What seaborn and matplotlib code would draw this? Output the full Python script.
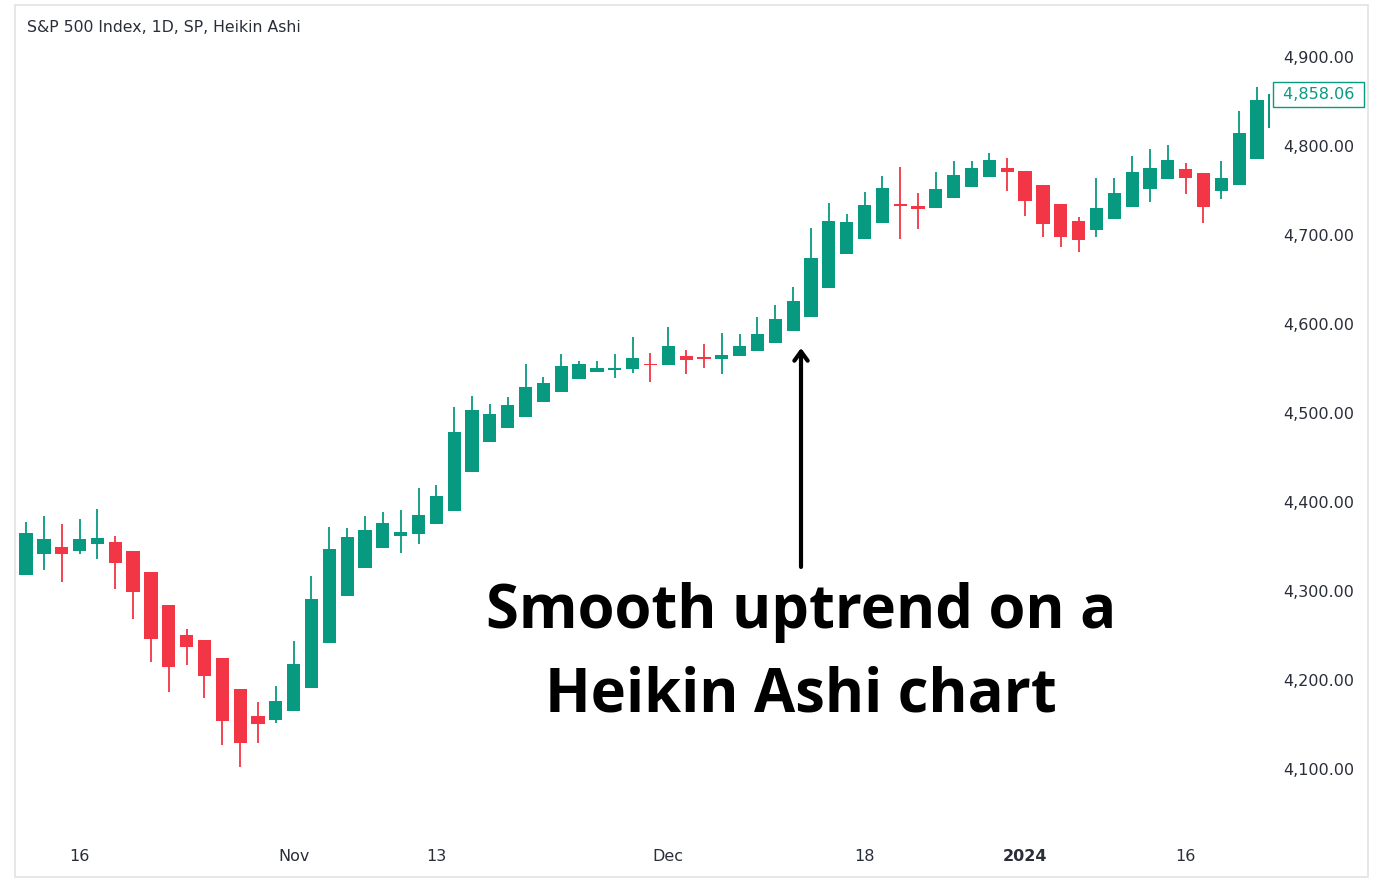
import numpy as np
import pandas as pd
import matplotlib
matplotlib.use("Agg")
import matplotlib.pyplot as plt
import seaborn as sns
from matplotlib.patches import Rectangle

# ---------------- data (Heikin Ashi OHLC, S&P 500 daily) ----------------
ha_open = [4318.0, 4341.2, 4349.8, 4344.9, 4352.5, 4355.4, 4344.6, 4321.7, 4283.9, 4250.2,
           4244.9, 4224.4, 4189.5, 4159.5, 4155.1, 4165.5, 4191.3, 4241.2, 4294.4, 4326.2,
           4348.0, 4361.5, 4363.7, 4374.9, 4389.9, 4434.0, 4467.7, 4482.8, 4495.2, 4512.7,
           4523.6, 4538.5, 4546.4, 4548.7, 4549.1, 4555.1, 4554.3, 4564.0, 4562.6, 4561.0,
           4563.7, 4569.3, 4578.7, 4592.1, 4608.2, 4640.8, 4678.3, 4695.8, 4713.5, 4734.5,
           4732.9, 4730.7, 4741.9, 4754.3, 4764.8, 4774.9, 4772.2, 4756.2, 4734.8, 4715.7,
           4705.6, 4717.6, 4731.1, 4751.7, 4762.6, 4773.8, 4769.3, 4749.8, 4756.5, 4785.4,
           4819.9]
ha_high = [4377.5, 4384.3, 4374.9, 4381.2, 4392.1, 4361.8, 4344.6, 4321.7, 4283.9, 4257.6,
           4244.9, 4224.4, 4189.5, 4174.9, 4193.6, 4244.2, 4317.2, 4371.6, 4370.8, 4384.3,
           4388.8, 4391.0, 4416.1, 4418.8, 4506.4, 4519.4, 4509.8, 4517.6, 4555.1, 4540.1,
           4566.0, 4558.4, 4558.8, 4566.0, 4585.1, 4567.8, 4597.0, 4570.8, 4577.2, 4589.6,
           4588.8, 4607.5, 4621.7, 4641.2, 4707.9, 4736.3, 4723.6, 4748.0, 4766.3, 4776.1,
           4747.2, 4771.1, 4783.5, 4783.5, 4791.8, 4786.2, 4772.2, 4756.2, 4734.8, 4719.7,
           4763.7, 4763.7, 4788.8, 4796.6, 4801.1, 4780.6, 4769.3, 4783.5, 4839.7, 4866.6,
           4858.06]
ha_low = [4318.0, 4323.6, 4310.1, 4341.6, 4335.6, 4301.9, 4268.2, 4220.6, 4186.9, 4216.9,
          4179.4, 4126.6, 4101.9, 4129.6, 4151.3, 4165.5, 4191.3, 4241.2, 4294.4, 4326.2,
          4348.0, 4342.4, 4352.5, 4374.9, 4389.9, 4434.0, 4467.7, 4482.8, 4495.2, 4512.7,
          4523.6, 4538.5, 4546.4, 4539.7, 4545.3, 4534.5, 4554.3, 4543.5, 4550.2, 4543.8,
          4563.7, 4569.3, 4578.7, 4592.1, 4608.2, 4640.8, 4678.3, 4695.8, 4713.5, 4695.2,
          4706.4, 4730.7, 4741.9, 4754.3, 4764.8, 4749.4, 4721.3, 4698.1, 4686.2, 4681.2,
          4697.4, 4717.6, 4731.1, 4737.4, 4762.6, 4745.7, 4713.1, 4740.1, 4756.5, 4785.4,
          4819.9]
ha_close = [4364.8, 4358.1, 4341.2, 4358.1, 4359.2, 4331.8, 4299.2, 4246.4, 4214.3, 4237.1,
            4204.8, 4153.9, 4129.2, 4150.9, 4176.1, 4218.0, 4290.7, 4347.2, 4361.0, 4368.5,
            4376.7, 4366.0, 4385.1, 4406.7, 4478.3, 4503.7, 4498.5, 4509.0, 4529.6, 4533.4,
            4553.1, 4554.7, 4550.9, 4549.8, 4561.8, 4553.9, 4575.3, 4559.5, 4561.0, 4565.5,
            4574.9, 4588.8, 4606.0, 4626.2, 4673.8, 4715.7, 4714.3, 4733.4, 4753.1, 4732.6,
            4729.5, 4752.0, 4767.1, 4774.9, 4784.3, 4770.5, 4737.9, 4712.0, 4697.8, 4694.9,
            4730.3, 4746.9, 4770.5, 4774.9, 4784.3, 4763.7, 4731.1, 4764.4, 4814.3, 4851.7,
            4858.06]

holidays = ["2023-11-23", "2023-12-25", "2024-01-01", "2024-01-15"]
start_date, end_date = "2023-10-11", "2024-01-23"

tick_dates = ["2023-10-16", "2023-11-01", "2023-11-13", "2023-12-01",
              "2023-12-18", "2024-01-02", "2024-01-16"]
tick_labels = ["16", "Nov", "13", "Dec", "18", "2024", "16"]
bold_label = "2024"

y_ticks = [4100, 4200, 4300, 4400, 4500, 4600, 4700, 4800, 4900]

title = "S&P 500 Index, 1D, SP, Heikin Ashi"
note_line1 = "Smooth uptrend on a"
note_line2 = "Heikin Ashi chart"

# ---------------- styling ----------------
sns.set_theme(style="white")
plt.rcParams["font.family"] = ["DejaVu Sans"]

GREEN = "#089981"
RED = "#f23645"
TXT = "#2a2e39"

W, H = 1384, 894
fig = plt.figure(figsize=(W / 100, H / 100), dpi=100)
fig.patch.set_facecolor("white")

ax_l, ax_r, ax_t, ax_b = 15, 1270, 5, 840
ax = fig.add_axes([ax_l / W, 1 - ax_b / H, (ax_r - ax_l) / W, (ax_b - ax_t) / H])
ax.set_facecolor("white")

dates = pd.bdate_range(start_date, end_date, freq="C", holidays=holidays)
df = pd.DataFrame({"date": dates, "open": ha_open, "high": ha_high,
                   "low": ha_low, "close": ha_close})
df["pos"] = np.arange(len(df))
df["up"] = df["close"] >= df["open"]
df["color"] = np.where(df["up"], GREEN, RED)

# wicks
ax.vlines(df["pos"], df["low"], df["high"], colors=df["color"], lw=1.3, zorder=2)
# bodies
body_bottom = np.minimum(df["open"], df["close"])
body_height = np.maximum(np.abs(df["close"] - df["open"]), 1.3)
ax.bar(df["pos"], body_height, bottom=body_bottom, width=0.74,
       color=df["color"], edgecolor="none", zorder=3)

ax.set_xlim(-0.62, 69.73)
ax.set_ylim(4020.2, 4958.4)

# x ticks from dates
date_index = {d.strftime("%Y-%m-%d"): i for i, d in enumerate(df["date"])}
ax.set_xticks([date_index[d] for d in tick_dates])
ax.set_xticklabels(tick_labels)
for t in ax.get_xticklabels():
    t.set_fontsize(11.5)
    t.set_color(TXT)
    if t.get_text() == bold_label:
        t.set_fontweight("bold")
ax.tick_params(axis="x", length=0, pad=6.5)

# y ticks on right
ax.yaxis.tick_right()
ax.set_yticks(y_ticks)
ax.set_yticklabels([f"{v:,.2f}" for v in y_ticks])
ax.tick_params(axis="y", length=0, pad=9.4, labelsize=11.5, labelcolor=TXT)

sns.despine(ax=ax, left=True, bottom=True, right=True, top=True)
ax.grid(False)

# last price label
last = df["close"].iloc[-1]
ax.annotate(f" {last:,.2f} ", xy=(1.0, last), xycoords=("axes fraction", "data"),
            xytext=(5.8, 0), textcoords="offset points", ha="left", va="center",
            fontsize=11.5, color=GREEN, annotation_clip=False,
            bbox=dict(boxstyle="square,pad=0.3", fc="white", ec=GREEN, lw=1.0))

# title
fig.text(27 / W, 1 - 27 / H, title, ha="left", va="center", fontsize=11.3, color=TXT)

# annotation arrow + text
ax.annotate("", xy=(0.6263, 0.5892), xytext=(0.6263, 0.327), xycoords="axes fraction",
            arrowprops=dict(arrowstyle="->,head_length=0.55,head_width=0.4",
                            lw=3, color="black", shrinkA=0, shrinkB=0))
ax.text(0.6263, 0.2539, note_line1, transform=ax.transAxes, ha="center", va="baseline",
        fontsize=43, fontweight="bold", family=["Open Sans", "DejaVu Sans"], color="black")
ax.text(0.6263, 0.1533, note_line2, transform=ax.transAxes, ha="center", va="baseline",
        fontsize=43, fontweight="bold", family=["Open Sans", "DejaVu Sans"], color="black")

# outer frame
fig.patches.append(Rectangle((15 / W, 1 - 877 / H), (1368 - 15) / W, (877 - 5) / H,
                             transform=fig.transFigure, fill=False,
                             edgecolor="#e3e3e3", lw=1.2))

fig.savefig("out.png", dpi=100, facecolor="white")
